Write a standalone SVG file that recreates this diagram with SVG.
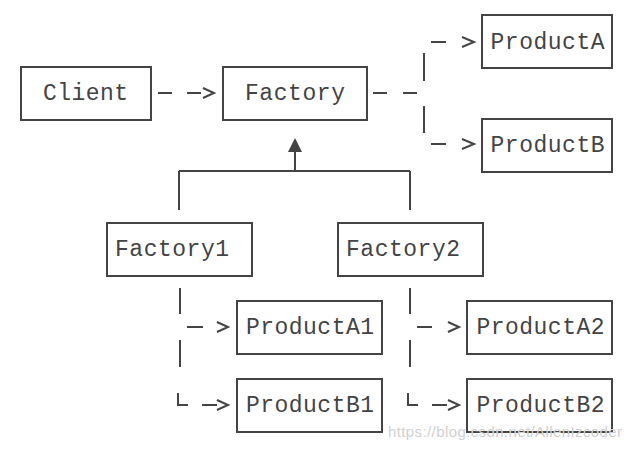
<svg xmlns="http://www.w3.org/2000/svg" width="632" height="450" viewBox="0 0 632 450">
<style>
.box{fill:#fff;stroke:#444;stroke-width:2}
.t{font-family:"Liberation Mono","Courier New",monospace;font-size:23px;fill:#444}
.c{stroke:#444;stroke-width:2;fill:none}
.wm{font-family:"Liberation Sans",Arial,sans-serif;font-size:15px;fill:#d0d0d0}
</style>
<rect width="632" height="450" fill="#fff"/>
<g id="connectors">
<path class="c" d="M158 93H172M187 93H201M373 93H387M403 93H417"/>
<path class="c" d="M203 88L214 93L203 98"/>
<path class="c" d="M424 53V81M424 106V133"/>
<path class="c" d="M431 42H446M431 144H446"/>
<path class="c" d="M462 37L474 42L462 47M462 139L474 144L462 149"/>
<path class="c" d="M295 152V171M179 171H410M179 171V210M410 171V210"/>
<polygon points="295,138 288,152 302,152" fill="#444"/>
<path class="c" d="M180 288V314M180 340V367M187 327H203M178 393V405H188M202 405H217"/>
<path class="c" d="M217 322L228 327L217 332M217 400L228 405L217 410"/>
<path class="c" d="M410 288V314M410 340V367M417 327H432M408 393V405H418M432 405H447"/>
<path class="c" d="M448 322L459 327L448 332M448 400L459 405L448 410"/>
</g>
<g id="client"><rect class="box" x="21" y="67" width="130" height="53"/><text class="t" x="43" y="100" textLength="85">Client</text></g>
<g id="factory"><rect class="box" x="223" y="67" width="144" height="53"/><text class="t" x="245" y="100" textLength="100">Factory</text></g>
<g id="productA"><rect class="box" x="482" y="15" width="130" height="53"/><text class="t" x="490.5" y="48.5" textLength="114">ProductA</text></g>
<g id="productB"><rect class="box" x="482" y="119" width="130" height="53"/><text class="t" x="490.5" y="152" textLength="114">ProductB</text></g>
<g id="factory1"><rect class="box" x="107" y="223" width="145" height="53"/><text class="t" x="115" y="256" textLength="114">Factory1</text></g>
<g id="factory2"><rect class="box" x="338" y="223" width="145" height="53"/><text class="t" x="346" y="256" textLength="114">Factory2</text></g>
<g id="productA1"><rect class="box" x="237" y="301" width="145" height="53"/><text class="t" x="246" y="333.5" textLength="128">ProductA1</text></g>
<g id="productB1"><rect class="box" x="237" y="379" width="145" height="53"/><text class="t" x="246" y="412" textLength="128">ProductB1</text></g>
<g id="productA2"><rect class="box" x="467" y="301" width="145" height="53"/><text class="t" x="476.5" y="333.5" textLength="128">ProductA2</text></g>
<g id="productB2"><rect class="box" x="467" y="379" width="145" height="53"/><text class="t" x="476.5" y="412" textLength="128">ProductB2</text></g>
<text class="wm" x="388" y="437" textLength="234">https://blog.csdn.net/AllenIzcoder</text>
</svg>
